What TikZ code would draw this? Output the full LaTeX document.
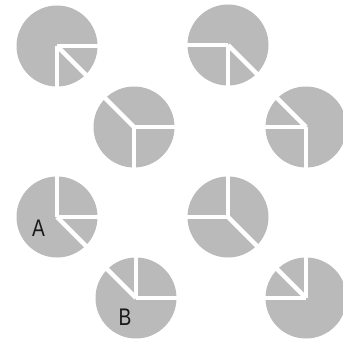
\documentclass[tikz,border=0pt]{standalone}
\usepackage{fontspec}
\setmainfont{Liberation Sans}
\tikzset{
  piebody/.style={circle, fill=black!27, inner sep=0pt, minimum size=81pt, draw=none},
  gapline/.style={draw=white, line width=4.5pt, line cap=butt},
  lettr/.style={font=\fontsize{24}{24}\selectfont, text=black!90, inner sep=0pt, xscale=0.8}
}
\newcommand\mypie[4]{%
  \node[piebody] (#1) at (#2) {};
  \foreach \a in {#3} \draw[gapline] (#1.center) -- ++(\a:#4);
}
\begin{document}
\begin{tikzpicture}[x=1pt,y=1pt]
\useasboundingbox (0,0) rectangle (343,341);
\mypie{p1}{57,295}{0,270,315}{43}
\mypie{p2}{134,214}{135,270,0}{43}
\mypie{p3}{228,296}{180,270,315}{43}
\mypie{p4}{306,214}{135,180,270}{43}
\mypie{p5}{57,124}{90,0,315}{43}
\mypie{p6}{136,43}{135,90,0}{43}
\mypie{p7}{228,124}{90,180,315}{43}
\mypie{p8}{306,43}{135,90,180}{43}
\node[lettr] (la) at (38.5,112.5) {A};
\node[lettr] (lb) at (125,24) {B};
\end{tikzpicture}
\end{document}
